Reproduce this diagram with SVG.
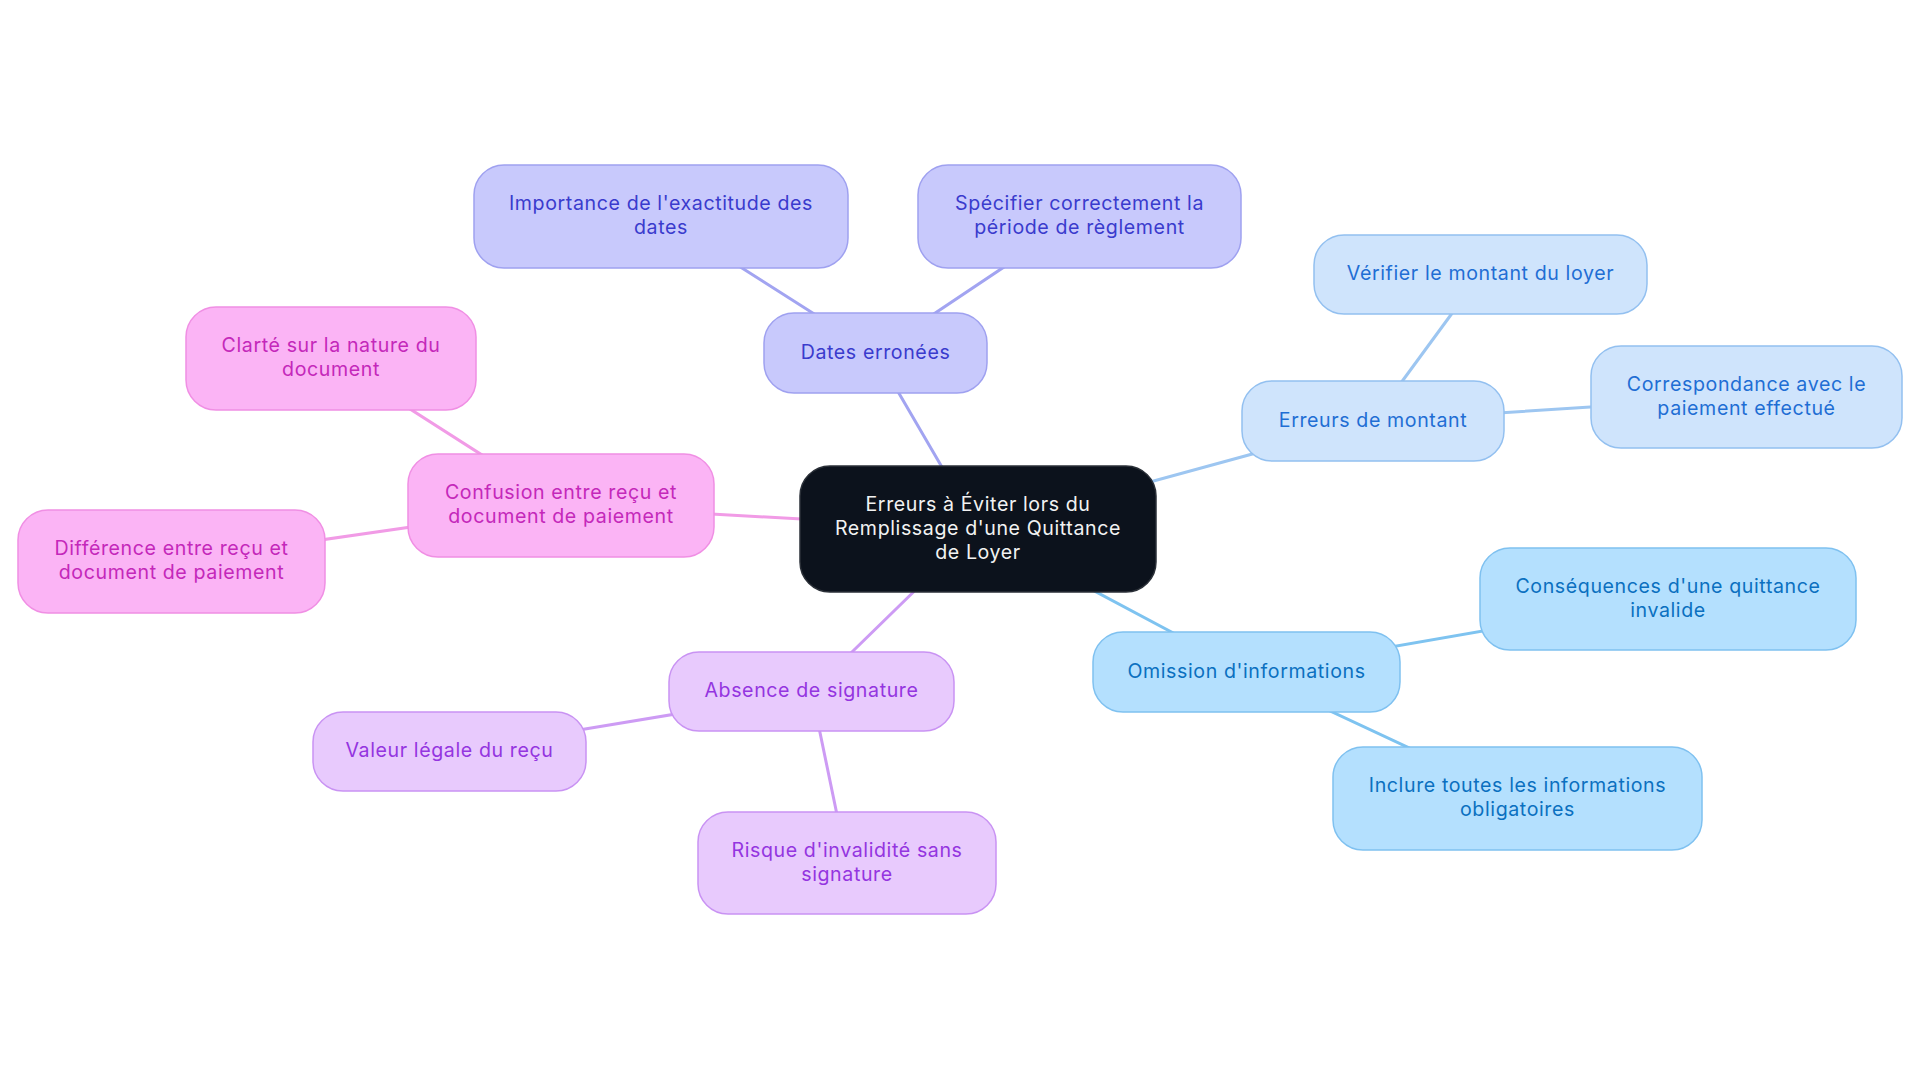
<svg xmlns="http://www.w3.org/2000/svg" width="1920" height="1083" viewBox="0 0 1920 1083">
<style>
text{font-family:Inter,"Noto Sans","Liberation Sans",sans-serif;font-size:19.6px;text-anchor:middle;letter-spacing:0.6px}
.e{stroke-width:3;fill:none;stroke-linecap:round}
.n{stroke-width:1.5}
.root rect{fill:#0c121c;stroke:#2b3038}
.root text{fill:#f2f2f2}
.ind line{stroke:#a2a4f1}
.ind rect{fill:#c8c9fc;stroke:#9fa1f0}
.ind text{fill:#3a3bcd}
.pnk line{stroke:#f19be6}
.pnk rect{fill:#fbb4f5;stroke:#f08fe4}
.pnk text{fill:#c428ba}
.pur line{stroke:#cd9bf4}
.pur rect{fill:#e8cafd;stroke:#c993f3}
.pur text{fill:#9435e0}
.lbl line{stroke:#9dc6f1}
.lbl rect{fill:#cfe4fc;stroke:#93c0f0}
.lbl text{fill:#1f6ed4}
.sky line{stroke:#7ec3f0}
.sky rect{fill:#b4e0fe;stroke:#7fc1f0}
.sky text{fill:#0b70c0}
</style>
<rect width="1920" height="1083" fill="#ffffff"/>
<g id="connectors">
<g class="ind">
<line class="e" x1="978" y1="529" x2="875.5" y2="353"/>
<line class="e" x1="875.5" y1="353" x2="661" y2="216.5"/>
<line class="e" x1="875.5" y1="353" x2="1079.5" y2="216.5"/>
</g>
<g class="lbl">
<line class="e" x1="978" y1="529" x2="1373" y2="421"/>
<line class="e" x1="1373" y1="421" x2="1480.5" y2="274.5"/>
<line class="e" x1="1373" y1="421" x2="1746.5" y2="397"/>
</g>
<g class="sky">
<line class="e" x1="978" y1="529" x2="1246.5" y2="672"/>
<line class="e" x1="1246.5" y1="672" x2="1668" y2="599"/>
<line class="e" x1="1246.5" y1="672" x2="1517.5" y2="798.5"/>
</g>
<g class="pur">
<line class="e" x1="978" y1="529" x2="811.5" y2="691.5"/>
<line class="e" x1="811.5" y1="691.5" x2="449.5" y2="751.5"/>
<line class="e" x1="811.5" y1="691.5" x2="847" y2="863"/>
</g>
<g class="pnk">
<line class="e" x1="978" y1="529" x2="561" y2="505.5"/>
<line class="e" x1="561" y1="505.5" x2="331" y2="358.5"/>
<line class="e" x1="561" y1="505.5" x2="171.5" y2="561.5"/>
</g>
</g>
<g id="root" class="root">
<rect class="n" x="800" y="466" width="356" height="126" rx="30"/>
<text x="978" y="511">Erreurs à Éviter lors du</text>
<text x="978" y="535">Remplissage d'une Quittance</text>
<text x="978" y="558.5">de Loyer</text>
</g>
<g id="dates" class="ind">
<rect class="n" x="764" y="313" width="223" height="80" rx="30"/>
<text x="875.5" y="358.5">Dates erronées</text>
</g>
<g id="importance" class="ind">
<rect class="n" x="474" y="165" width="374" height="103" rx="30"/>
<text x="661" y="210">Importance de l'exactitude des</text>
<text x="661" y="234">dates</text>
</g>
<g id="specifier" class="ind">
<rect class="n" x="918" y="165" width="323" height="103" rx="30"/>
<text x="1079.5" y="210">Spécifier correctement la</text>
<text x="1079.5" y="234">période de règlement</text>
</g>
<g id="montant" class="lbl">
<rect class="n" x="1242" y="381" width="262" height="80" rx="30"/>
<text x="1373" y="426.5">Erreurs de montant</text>
</g>
<g id="verifier" class="lbl">
<rect class="n" x="1314" y="235" width="333" height="79" rx="30"/>
<text x="1480.5" y="280">Vérifier le montant du loyer</text>
</g>
<g id="correspondance" class="lbl">
<rect class="n" x="1591" y="346" width="311" height="102" rx="30"/>
<text x="1746.5" y="390.5">Correspondance avec le</text>
<text x="1746.5" y="414.5">paiement effectué</text>
</g>
<g id="omission" class="sky">
<rect class="n" x="1093" y="632" width="307" height="80" rx="30"/>
<text x="1246.5" y="677.5">Omission d'informations</text>
</g>
<g id="consequences" class="sky">
<rect class="n" x="1480" y="548" width="376" height="102" rx="30"/>
<text x="1668" y="592.5">Conséquences d'une quittance</text>
<text x="1668" y="616.5">invalide</text>
</g>
<g id="inclure" class="sky">
<rect class="n" x="1333" y="747" width="369" height="103" rx="30"/>
<text x="1517.5" y="792">Inclure toutes les informations</text>
<text x="1517.5" y="816">obligatoires</text>
</g>
<g id="absence" class="pur">
<rect class="n" x="669" y="652" width="285" height="79" rx="30"/>
<text x="811.5" y="696.5">Absence de signature</text>
</g>
<g id="valeur" class="pur">
<rect class="n" x="313" y="712" width="273" height="79" rx="30"/>
<text x="449.5" y="757">Valeur légale du reçu</text>
</g>
<g id="risque" class="pur">
<rect class="n" x="698" y="812" width="298" height="102" rx="30"/>
<text x="847" y="856.5">Risque d'invalidité sans</text>
<text x="847" y="880.5">signature</text>
</g>
<g id="confusion" class="pnk">
<rect class="n" x="408" y="454" width="306" height="103" rx="30"/>
<text x="561" y="499">Confusion entre reçu et</text>
<text x="561" y="523">document de paiement</text>
</g>
<g id="clarte" class="pnk">
<rect class="n" x="186" y="307" width="290" height="103" rx="30"/>
<text x="331" y="352">Clarté sur la nature du</text>
<text x="331" y="376">document</text>
</g>
<g id="difference" class="pnk">
<rect class="n" x="18" y="510" width="307" height="103" rx="30"/>
<text x="171.5" y="555">Différence entre reçu et</text>
<text x="171.5" y="579">document de paiement</text>
</g>
</svg>
